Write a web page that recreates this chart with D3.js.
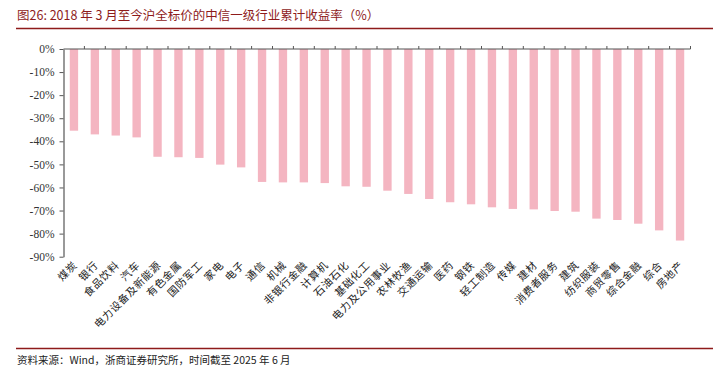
<!DOCTYPE html>
<html>
<head>
<meta charset="utf-8">
<script src="https://cdn.jsdelivr.net/npm/d3@7"></script>
<style>
html,body{margin:0;padding:0;background:#fff;}
svg{display:block;}
</style>
</head>
<body>
<svg id="c" width="726" height="371"></svg>
<script>
const categories = ["煤炭","银行","食品饮料","汽车","电力设备及新能源","有色金属","国防军工","家电","电子","通信","机械","非银行金融","计算机","石油石化","基础化工","电力及公用事业","农林牧渔","交通运输","医药","钢铁","轻工制造","传媒","建材","消费者服务","建筑","纺织服装","商贸零售","综合金融","综合","房地产"];
const values = [-35.4,-37.0,-37.5,-38.3,-46.7,-46.9,-47.2,-50.1,-51.3,-57.6,-57.8,-57.8,-58.1,-59.5,-59.7,-61.4,-62.8,-65.0,-66.4,-67.3,-68.6,-69.3,-69.5,-70.2,-70.5,-73.5,-74.1,-75.7,-78.6,-83.0];
const yTicks = [0,-10,-20,-30,-40,-50,-60,-70,-80,-90];
const titleText = "图26:   2018 年 3 月至今沪全标价的中信一级行业累计收益率（%）";
const sourceText = "资料来源：Wind，浙商证券研究所，时间截至 2025 年 6 月";

const svg = d3.select("#c");
const serif = "'Liberation Serif','Times New Roman',serif";
const cjk = "'Noto Sans CJK SC','Noto Sans',sans-serif";
const red = "#8e1b1b";

svg.append("text").attr("x",17).attr("y",20)
  .attr("font-family",cjk).attr("font-size",12.5).attr("fill",red)
  .text(titleText);
svg.append("line").attr("x1",16).attr("x2",713).attr("y1",28.5).attr("y2",28.5)
  .attr("stroke",red).attr("stroke-width",1.3);

svg.append("line").attr("x1",16).attr("x2",713).attr("y1",348.5).attr("y2",348.5)
  .attr("stroke",red).attr("stroke-width",1.3);
svg.append("text").attr("x",17).attr("y",364)
  .attr("font-family",cjk).attr("font-size",10.5).attr("fill","#222")
  .text(sourceText);

const x = d3.scaleBand().domain(categories).range([63.5, 690.5]).paddingInner(0.6).paddingOuter(0.3);
const y = d3.scaleLinear().domain([0,-90]).range([49, 256.7]);

// bars
svg.append("g").selectAll("rect").data(values).join("rect")
  .attr("x",(d,i)=>x(categories[i]))
  .attr("width",x.bandwidth())
  .attr("y",y(0))
  .attr("height",d=>y(d)-y(0))
  .attr("fill","#f4b5c1");

// y axis
const yAxis = d3.axisLeft(y).tickValues(yTicks).tickFormat(d=>d+"%").tickSize(4).tickSizeOuter(0);
const gy = svg.append("g").attr("transform","translate(63.5,0)").call(yAxis);
gy.select(".domain").attr("stroke","#555").attr("stroke-width",1.2);
gy.selectAll(".tick line").attr("stroke","#555");
gy.selectAll(".tick text").attr("font-family",serif).attr("font-size",11.5).attr("fill","#333").attr("x",-9);

// top x axis line at 0
const step = x.step();
const bounds = d3.range(categories.length+1).map(i=>63.5 + i*step);
svg.append("line").attr("x1",63.5).attr("x2",690.5).attr("y1",y(0)).attr("y2",y(0))
  .attr("stroke","#555").attr("stroke-width",1.2);
svg.append("g").selectAll("line").data(bounds.slice(1)).join("line")
  .attr("x1",d=>d).attr("x2",d=>d).attr("y1",y(0)).attr("y2",y(0)-3)
  .attr("stroke","#555");

// category labels
svg.append("g").selectAll("text").data(categories).join("text")
  .attr("transform",d=>`translate(${x(d)+x.bandwidth()/2+4},${266}) rotate(-45)`)
  .attr("text-anchor","end")
  .attr("font-family",cjk).attr("font-size",10.5).attr("letter-spacing",0.6).attr("fill","#222")
  .text(d=>d);
</script>
</body>
</html>
